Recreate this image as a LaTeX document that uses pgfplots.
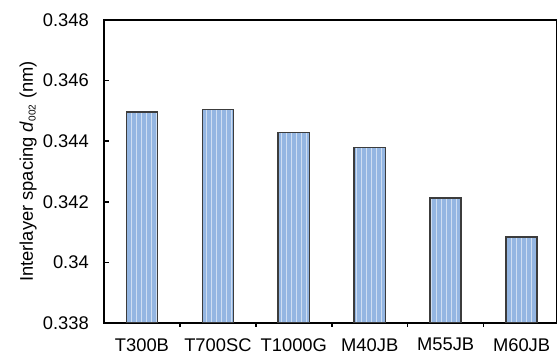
\documentclass[border=0pt]{standalone}
\usepackage{pgfplots}
\pgfplotsset{compat=1.18}
\usetikzlibrary{patterns}
\usepackage{fontspec}
\setmainfont{Liberation Sans}
\definecolor{barfill}{RGB}{148,182,226}
\definecolor{baredge}{RGB}{60,60,60}
\begin{document}
\fontsize{11}{13}\selectfont
\begin{tikzpicture}
\useasboundingbox (-62.4pt,-20.4pt) rectangle (272.4pt,193.8pt);
\begin{axis}[
  at={(0,0)}, anchor=south west,
  scale only axis,
  width=271.5pt, height=181.8pt,
  xmin=-0.5, xmax=5.46,
  ymin=0.338, ymax=0.348,
  ytick={0.338,0.340,0.342,0.344,0.346,0.348},
  scaled y ticks=false,
  yticklabel style={/pgf/number format/fixed, /pgf/number format/precision=3, /pgf/number format/assume math mode=true, xshift=-5.3pt, font=\fontsize{11}{13}\selectfont},
  xtick={0,1,2,3,4,5},
  xticklabels={T300B,T700SC,T1000G,M40JB,M55JB,M60JB},
  xticklabel style={yshift=-2.3pt, font=\fontsize{11}{13}\selectfont},
  major x tick style={draw=none},
  minor xtick={0.5,1.5,2.5,3.5,4.5},
  minor tick length=2.4pt,
  major tick length=3pt,
  xtick pos=bottom, ytick pos=left,
  tick align=inside,
  tick style={black, line width=0.9pt},
  axis line style={black, line width=1.1pt},
  ylabel={Interlayer spacing \textit{d}\textsubscript{\fontsize{6}{7}\selectfont 002} (nm)},
  ylabel style={at={(axis description cs:-0.1676,0.5)}, anchor=center, font=\fontsize{11}{13}\selectfont},
  ybar, bar width=0.41,
]
\addplot[fill=barfill, draw=baredge, line width=0.9pt,
  postaction={pattern=vertical lines, pattern color=white!85!barfill}]
  coordinates {(0,0.34497) (1,0.34505) (2,0.34428) (3,0.34379) (4,0.34212) (5,0.34084)};
\end{axis}
\end{tikzpicture}
\end{document}
